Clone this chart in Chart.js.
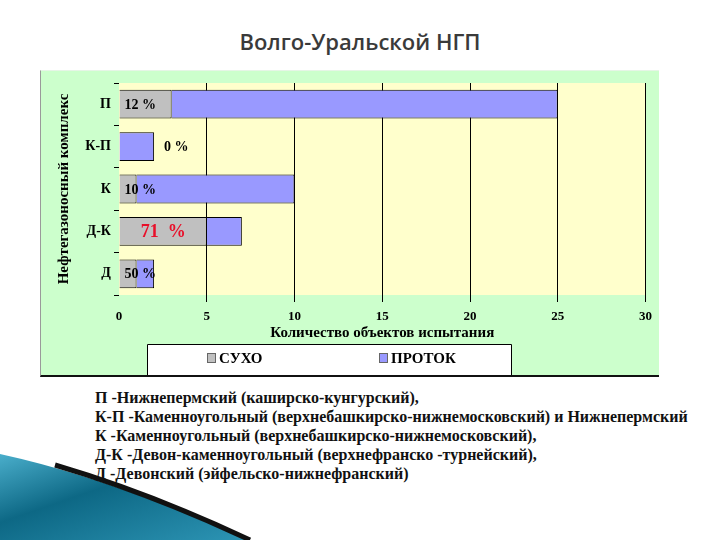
<!DOCTYPE html>
<html>
<head>
<meta charset="utf-8">
<script src="https://cdn.jsdelivr.net/npm/chart.js@4.4.1/dist/chart.umd.min.js"></script>
<style>
    body { margin: 0; background: #fff; width: 720px; height: 540px; position: relative; overflow: hidden; }
    #title { position: absolute; left: 0; top: 26px; width: 720px; text-align: center;
             font: 600 22px "Open Sans", sans-serif; color: #3a3a3a; }
    #panel { position: absolute; left: 40px; top: 70px; width: 618px; height: 304px;
             background: #ccffcc; border-left: 1px solid #9a9a9a; border-top: 1px solid #e6f5e6;
             border-bottom: 2px solid #111; }
    #chart { position: absolute; left: 0; top: 0; }
    #notes { position: absolute; left: 95px; top: 388px; font: bold 16px "Liberation Serif", serif;
             line-height: 19px; color: #111; white-space: nowrap; }
    #swoosh { position: absolute; left: 0; top: 448px; }
</style>
</head>
<body>
<div id="title">Волго-Уральской НГП</div>
<div id="panel"><canvas id="chart" width="618" height="304"></canvas></div>
<div id="notes">
    П -Нижнепермский (каширско-кунгурский),<br>
    К-П -Каменноугольный (верхнебашкирско-нижнемосковский) и Нижнепермский<br>
    К -Каменноугольный (верхнебашкирско-нижнемосковский),<br>
    Д-К -Девон-каменноугольный (верхнефранско -турнейский),<br>
    Д -Девонский (эйфельско-нижнефранский)
</div>
<svg id="swoosh" width="260" height="92">
    <defs>
        <linearGradient id="g" x1="0" y1="0" x2="1" y2="1">
            <stop offset="0" stop-color="#4aaecb"/>
            <stop offset="0.4" stop-color="#0d6885"/>
            <stop offset="1" stop-color="#2d95b5"/>
        </linearGradient>
    </defs>
    <path d="M0,6 Q110,30 250,92 L0,92 Z" fill="url(#g)"/>
    <path d="M55,17 Q150,45 250,92" fill="none" stroke="#111" stroke-width="5"/>
</svg>

<script>
const categories = ['П', 'К-П', 'К', 'Д-К', 'Д'];
const dryValues = [3, 0, 1, 5, 1];      // СУХО
const flowValues = [22, 2, 9, 2, 1];    // ПРОТОК
const xTicks = [0, 5, 10, 15, 20, 25, 30];

const serif = '"Liberation Serif", "Times New Roman", serif';

// yellow plot area
const plotBg = {
    id: 'plotBg',
    beforeDraw(chart) {
        const a = chart.chartArea;
        const c = chart.ctx;
        c.save();
        c.fillStyle = '#ffffcc';
        c.fillRect(a.left, a.top, a.right - a.left, a.bottom - a.top);
        c.restore();
    }
};

// percent of dry wells written on each bar
const pctLabels = {
    id: 'pctLabels',
    afterDatasetsDraw(chart) {
        const c = chart.ctx;
        const dry = chart.getDatasetMeta(0).data;
        const flow = chart.getDatasetMeta(1).data;
        c.save();
        c.textBaseline = 'middle';
        categories.forEach(function(cat, i) {
            const d = dryValues[i], f = flowValues[i];
            const pct = Math.round(d / (d + f) * 100);
            const txt = pct + ' %';
            if (d === 0) {
                c.font = 'bold 14px ' + serif;
                c.fillStyle = '#000';
                c.textAlign = 'left';
                c.fillText(txt, flow[i].x + 10, flow[i].y + 1);
            } else if (pct >= 70) {
                c.font = 'bold 18px ' + serif;
                c.fillStyle = '#e8102a';
                c.textAlign = 'center';
                c.fillText(pct + '  %', (dry[i].base + dry[i].x) / 2, dry[i].y + 1);
            } else {
                c.font = 'bold 14px ' + serif;
                c.fillStyle = '#000';
                c.textAlign = 'left';
                c.fillText(txt, dry[i].base + 5, dry[i].y + 1);
            }
        });
        c.restore();
    }
};

// legend in a white box under the axis
const boxLegend = {
    id: 'boxLegend',
    afterDraw(chart) {
        const c = chart.ctx;
        c.save();
        c.fillStyle = '#fff';
        c.fillRect(106, 273, 364, 31);
        c.strokeStyle = '#000';
        c.lineWidth = 1;
        c.beginPath();
        c.moveTo(106.5, 304);
        c.lineTo(106.5, 273.5);
        c.lineTo(470.5, 273.5);
        c.lineTo(470.5, 304);
        c.stroke();
        const xs = [166, 338];
        c.font = 'bold 15px ' + serif;
        c.textBaseline = 'middle';
        c.textAlign = 'left';
        chart.data.datasets.forEach(function(ds, i) {
            c.fillStyle = ds.backgroundColor;
            c.fillRect(xs[i], 282, 9, 10);
            c.strokeStyle = '#666';
            c.strokeRect(xs[i] + 0.5, 282.5, 8, 9);
            c.fillStyle = '#000';
            c.fillText(ds.label, xs[i] + 12, 288);
        });
        c.restore();
    }
};

new Chart(document.getElementById('chart'), {
    type: 'bar',
    data: {
        labels: categories,
        datasets: [{
            label: 'СУХО',
            data: dryValues,
            backgroundColor: '#c0c0c0',
            borderColor: '#000',
            borderWidth: 1
        }, {
            label: 'ПРОТОК',
            data: flowValues,
            backgroundColor: '#9999ff',
            borderColor: '#000',
            borderWidth: 1
        }]
    },
    options: {
        indexAxis: 'y',
        responsive: false,
        animation: false,
        devicePixelRatio: 1,
        barPercentage: 0.68,
        categoryPercentage: 1,
        layout: { padding: { left: 0, top: 12, right: 12, bottom: 31 } },
        plugins: {
            legend: { display: false },
            tooltip: { enabled: false }
        },
        scales: {
            x: {
                stacked: true,
                min: 0,
                max: 30,
                afterBuildTicks: function(scale) {
                    scale.ticks = xTicks.map(function(v) { return { value: v }; });
                },
                afterFit: function(scale) { scale.height = 49; },
                border: { display: false },
                grid: {
                    color: function(ctx) { return ctx.tick && ctx.tick.value === 0 ? 'rgba(0,0,0,0)' : '#000'; },
                    tickLength: 7
                },
                ticks: { color: '#000', padding: 7, font: { family: serif, size: 13, weight: 'bold' } },
                title: {
                    display: true,
                    text: 'Количество объектов испытания',
                    color: '#000',
                    padding: { top: 0, bottom: 2 },
                    font: { family: serif, size: 15, weight: 'bold' }
                }
            },
            y: {
                stacked: true,
                afterFit: function(scale) { scale.width = 78; },
                border: { display: false },
                grid: { drawOnChartArea: false, color: '#000', tickLength: 5 },
                ticks: { color: '#000', padding: 3, font: { family: serif, size: 14, weight: 'bold' } },
                title: {
                    display: true,
                    text: 'Нефтегазоносный комплекс',
                    color: '#000',
                    padding: { top: 14, bottom: 0 },
                    font: { family: serif, size: 15, weight: 'bold' }
                }
            }
        }
    },
    plugins: [plotBg, pctLabels, boxLegend]
});
</script>
</body>
</html>
